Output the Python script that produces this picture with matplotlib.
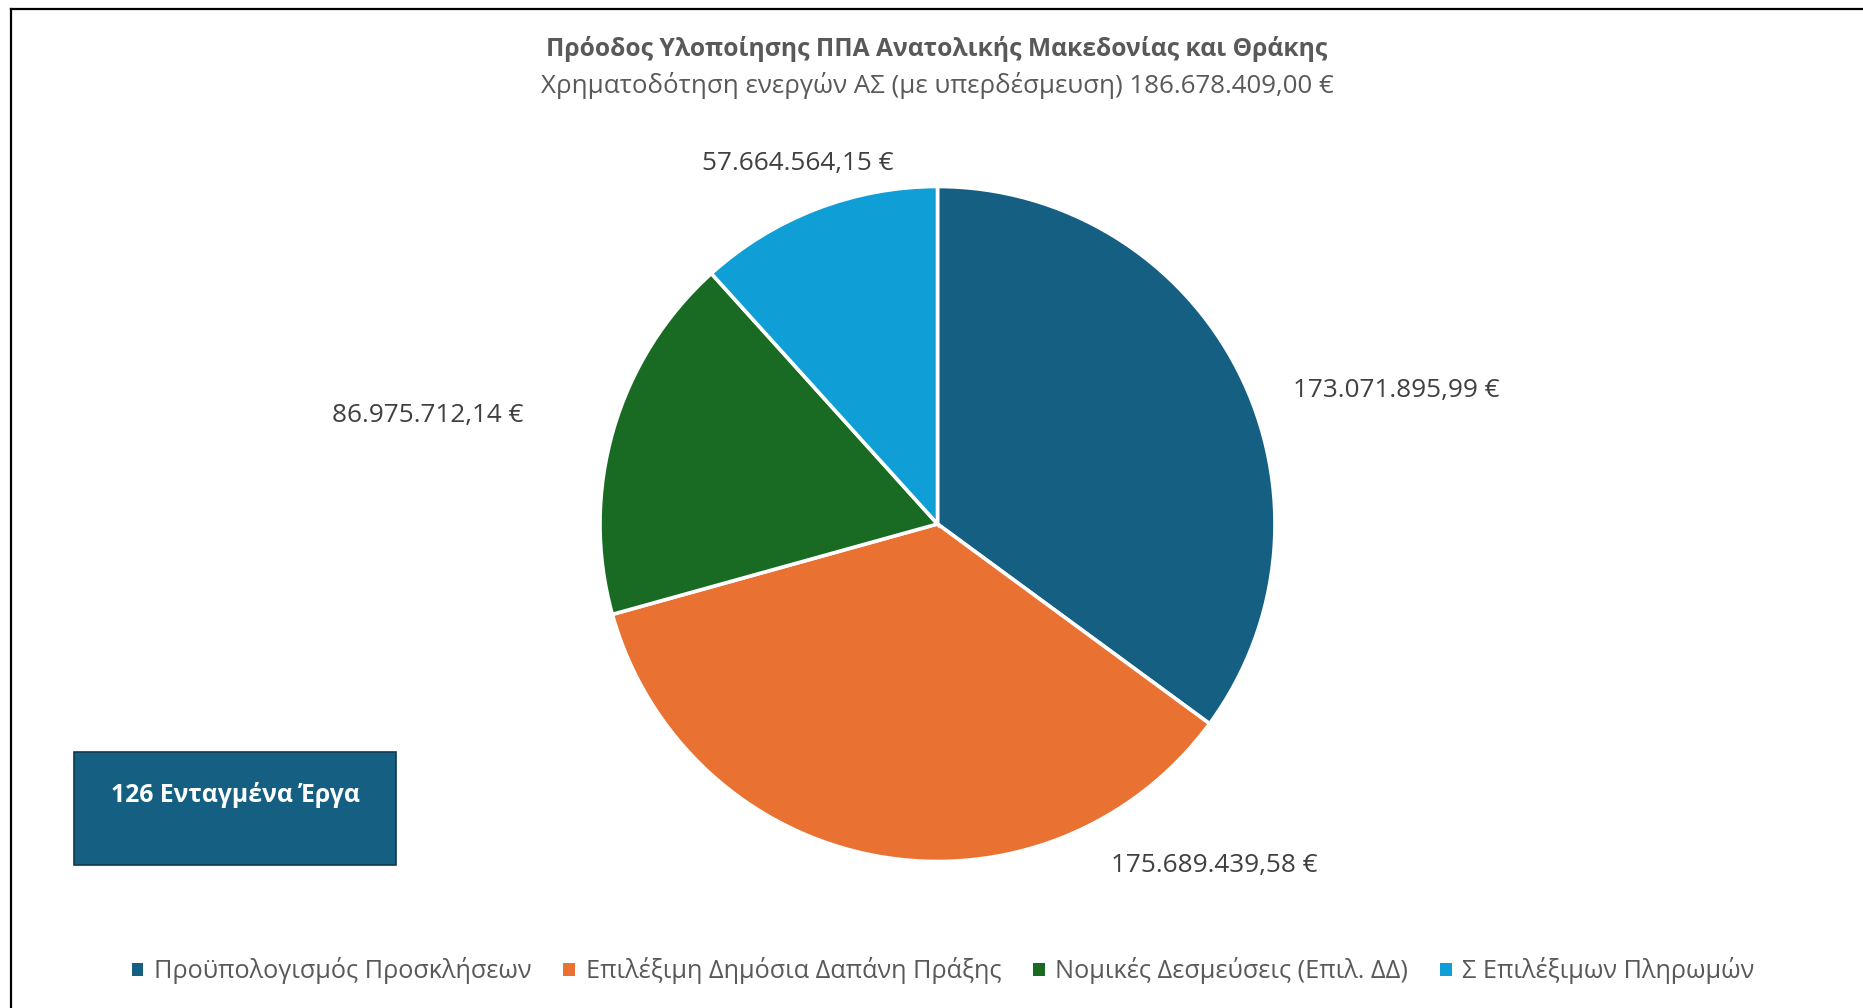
import matplotlib
matplotlib.use("Agg")
import matplotlib.pyplot as plt
from matplotlib.patches import Patch, Rectangle
from matplotlib.lines import Line2D

plt.rcParams['font.family'] = ['Open Sans', 'DejaVu Sans']

# ---- data ----
categories = [
    "Προϋπολογισμός Προσκλήσεων",
    "Επιλέξιμη Δημόσια Δαπάνη Πράξης",
    "Νομικές Δεσμεύσεις (Επιλ. ΔΔ)",
    "Σ Επιλέξιμων Πληρωμών",
]
values = [173071895.99, 175689439.58, 86975712.14, 57664564.15]
colors = ["#156082", "#E97132", "#196B24", "#0F9ED5"]
title = "Πρόοδος Υλοποίησης ΠΠΑ Ανατολικής Μακεδονίας και Θράκης"
subtitle = "Χρηματοδότηση ενεργών ΑΣ (με υπερδέσμευση) 186.678.409,00 €"
box_text = "126 Ενταγμένα Έργα"

# label spots in pie-radius units
label_pos = [(1.358, 0.395), (0.819, -1.012), (-1.510, 0.321), (-0.413, 1.068)]


def fmt_eur(v):
    s = f"{v:,.2f}"
    s = s.replace(",", "X").replace(".", ",").replace("X", ".")
    return s + " €"


W, H = 1863, 1008
fig = plt.figure(figsize=(W / 100, H / 100), dpi=100)

# axes span the whole figure; 1 data unit = pie radius = 337.5 px
cx, cy, R = 937.5, 524.0, 337.5
ax = fig.add_axes([0, 0, 1, 1])
ax.pie(values, colors=colors, startangle=90, counterclock=False,
       wedgeprops=dict(edgecolor="white", linewidth=2.6))
ax.set_xlim(-cx / R, (W - cx) / R)
ax.set_ylim(-(H - cy) / R, cy / R)
ax.set_aspect("auto")
ax.axis("off")

for v, (x, y) in zip(values, label_pos):
    ax.text(x, y, fmt_eur(v), ha="center", va="center",
            fontsize=18.8, color="#404040")

# titles
fig.text(937 / W, 1 - 49.5 / H, title, ha="center", va="center",
         fontsize=17.7, fontweight="bold", color="#595959")
fig.text(937 / W, 1 - 85.5 / H, subtitle, ha="center", va="center",
         fontsize=18.6, color="#595959")

# info box
fig.add_artist(Rectangle((74 / W, 1 - 865 / H), 322 / W, 113 / H,
                         transform=fig.transFigure, facecolor="#156082",
                         edgecolor="#0E3A50", linewidth=1.2))
fig.text(235 / W, 1 - 795 / H, box_text, ha="center", va="center",
         fontsize=17.8, fontweight="bold", color="white")

# legend
handles = [Patch(facecolor=c, edgecolor="none") for c in colors]
fig.legend(handles, categories, loc="center", ncol=4,
           bbox_to_anchor=(943 / W, 1 - 971 / H), frameon=False,
           fontsize=18.2, labelcolor="#595959",
           handlelength=0.47, handleheight=0.47, handletextpad=0.42,
           columnspacing=1.25)

# outer frame (top and left edges visible)
fig.add_artist(Line2D([11 / W, 1], [1 - 8.5 / H, 1 - 8.5 / H],
                      transform=fig.transFigure, color="black", lw=1.6))
fig.add_artist(Line2D([11 / W, 11 / W], [0, 1 - 8.5 / H],
                      transform=fig.transFigure, color="black", lw=1.6))

fig.savefig("out.png", dpi=100)
